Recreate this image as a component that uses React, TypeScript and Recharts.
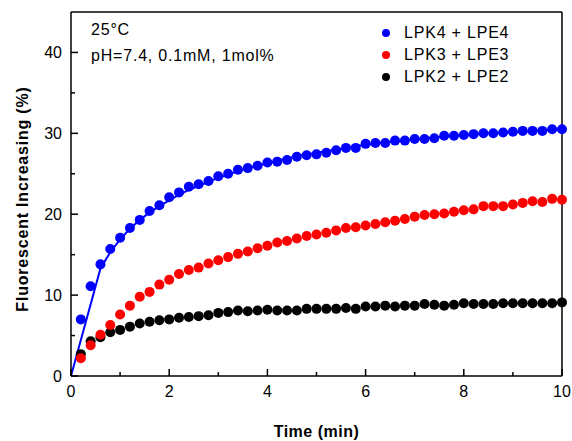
import {
  LineChart,
  Line,
  XAxis,
  YAxis,
  ReferenceLine,
  Legend,
} from "recharts";

const time = [
  0, 0.2, 0.4, 0.6, 0.8, 1.0, 1.2, 1.4, 1.6, 1.8, 2.0, 2.2, 2.4, 2.6, 2.8, 3.0, 3.2, 3.4,
  3.6, 3.8, 4.0, 4.2, 4.4, 4.6, 4.8, 5.0, 5.2, 5.4, 5.6, 5.8, 6.0, 6.2, 6.4, 6.6, 6.8,
  7.0, 7.2, 7.4, 7.6, 7.8, 8.0, 8.2, 8.4, 8.6, 8.8, 9.0, 9.2, 9.4, 9.6, 9.8, 10.0,
];

const lpk4 = [
  null, 7.0, 11.1, 13.8, 15.7, 17.1, 18.3, 19.3, 20.4, 21.1, 22.1, 22.7, 23.4, 23.7, 24.1,
  24.7, 25.0, 25.5, 25.7, 26.0, 26.4, 26.5, 26.7, 27.1, 27.3, 27.4, 27.6, 27.9, 28.2, 28.2,
  28.7, 28.8, 28.8, 29.1, 29.1, 29.3, 29.3, 29.4, 29.7, 29.7, 29.8, 29.9, 30.0, 30.0, 30.1,
  30.2, 30.3, 30.3, 30.3, 30.5, 30.5,
];

const lpk3 = [
  null, 2.2, 3.8, 5.1, 6.3, 7.6, 8.7, 9.8, 10.4, 11.3, 11.9, 12.6, 13.1, 13.4, 13.9, 14.3,
  14.7, 15.1, 15.4, 15.8, 16.1, 16.5, 16.7, 17.0, 17.3, 17.5, 17.7, 18.0, 18.3, 18.4, 18.6,
  18.8, 19.0, 19.2, 19.4, 19.7, 19.9, 20.0, 20.1, 20.3, 20.5, 20.6, 21.0, 21.0, 21.0, 21.2,
  21.4, 21.6, 21.5, 21.9, 21.8,
];

const lpk2 = [
  null, 2.7, 4.3, 4.8, 5.4, 5.7, 6.1, 6.5, 6.7, 6.9, 7.0, 7.2, 7.3, 7.4, 7.5, 7.8, 7.9, 8.1,
  8.0, 8.1, 8.2, 8.1, 8.1, 8.1, 8.3, 8.3, 8.3, 8.3, 8.4, 8.3, 8.6, 8.6, 8.7, 8.6, 8.7, 8.7,
  8.9, 8.8, 8.7, 8.8, 9.0, 8.9, 8.9, 8.9, 9.0, 9.0, 9.0, 9.0, 9.0, 9.0, 9.1,
];

// fitted curve for LPK4 + LPE4
const lpk4Fit = [
  0, null, null, 13.3, 15.3, 16.9, 18.2, 19.3, 20.2, 21.0, 21.7, 22.4, 23.0, 23.5, 24.0,
  24.5, 24.9, 25.3, 25.7, 26.0, 26.3, 26.6, 26.9, 27.2, 27.4, 27.6, 27.8, 28.0, 28.2, 28.4,
  28.6, 28.7, 28.9, 29.0, 29.1, 29.3, 29.4, 29.5, 29.6, 29.7, 29.8, 29.9, 30.0, 30.0, 30.1,
  30.2, 30.2, 30.3, 30.4, 30.4, 30.5,
];

const xTicks = [0, 1, 2, 3, 4, 5, 6, 7, 8, 9, 10];
const yTicks = [0, 5, 10, 15, 20, 25, 30, 35, 40];

const series = [
  { key: "lpk4", name: "LPK4 + LPE4", color: "#0000ff" },
  { key: "lpk3", name: "LPK3 + LPE3", color: "#ff0000" },
  { key: "lpk2", name: "LPK2 + LPE2", color: "#000000" },
];

const FONT = '"Liberation Sans", Arial, sans-serif';

const data = time.map((t, i) => ({
  t,
  lpk4: lpk4[i],
  lpk3: lpk3[i],
  lpk2: lpk2[i],
  fit: lpk4Fit[i],
}));

const XTick = ({ x, y, payload }: any) => {
  const major = payload.value % 2 === 0;
  return (
    <g>
      <line x1={x} x2={x} y1={y} y2={y - (major ? 7 : 4)} stroke="#000" strokeWidth={1.5} />
      {major && (
        <text x={x} y={y + 21} textAnchor="middle" fontSize={16} fontFamily={FONT} fill="#000">
          {payload.value}
        </text>
      )}
    </g>
  );
};

const YTick = ({ x, y, payload }: any) => {
  const major = payload.value % 10 === 0;
  return (
    <g>
      <line x1={x} x2={x + (major ? 7 : 4)} y1={y} y2={y} stroke="#000" strokeWidth={1.5} />
      {major && (
        <text x={x - 9} y={y} dy="0.36em" textAnchor="end" fontSize={16} fontFamily={FONT} fill="#000">
          {payload.value}
        </text>
      )}
    </g>
  );
};

const renderLegend = () => (
  <div style={{ fontFamily: FONT, fontSize: 16, letterSpacing: 0.8, color: "#000" }}>
    {series.map((s) => (
      <div key={s.key} style={{ display: "flex", alignItems: "center", height: 22 }}>
        <span
          style={{
            display: "inline-block",
            width: 8,
            height: 8,
            borderRadius: "50%",
            background: s.color,
            marginRight: 14,
          }}
        />
        <span>{s.name}</span>
      </div>
    ))}
  </div>
);

export default function App() {
  return (
    <div style={{ position: "absolute", left: 0, top: 0, width: 572, height: 441, background: "#fff" }}>
      <LineChart width={572} height={441} data={data} margin={{ top: 12, right: 10, left: 0, bottom: 0 }}>
        <XAxis
          dataKey="t"
          type="number"
          domain={[0, 10]}
          ticks={xTicks}
          height={65}
          tickSize={0}
          tickMargin={0}
          tickLine={false}
          tick={<XTick />}
          axisLine={{ stroke: "#000", strokeWidth: 1.5 }}
          label={{
            value: "Time (min)",
            position: "insideBottom",
            offset: 4,
            style: { fontFamily: FONT, fontSize: 16, fontWeight: "bold", fill: "#000", letterSpacing: 0.5 },
          }}
        />
        <YAxis
          type="number"
          domain={[0, 45]}
          ticks={yTicks}
          width={71}
          tickSize={0}
          tickMargin={0}
          tickLine={false}
          tick={<YTick />}
          axisLine={{ stroke: "#000", strokeWidth: 1.5 }}
          label={{
            content: () => (
              <text
                x={28}
                y={199}
                transform="rotate(-90 28 199)"
                textAnchor="middle"
                fontFamily={FONT}
                fontSize={16}
                fontWeight="bold"
                letterSpacing={0.8}
                fill="#000"
              >
                Fluorescent Increasing (%)
              </text>
            ),
          }}
        />
        <ReferenceLine y={45} stroke="#000" strokeWidth={1.5} />
        <ReferenceLine x={10} stroke="#000" strokeWidth={1.5} />
        <ReferenceLine
          y={42.8}
          stroke="none"
          label={{
            value: "25°C",
            position: "insideLeft",
            offset: 20,
            style: { fontFamily: FONT, fontSize: 16, fill: "#000", letterSpacing: 0.8 },
          }}
        />
        <ReferenceLine
          y={39.7}
          stroke="none"
          label={{
            value: "pH=7.4, 0.1mM, 1mol%",
            position: "insideLeft",
            offset: 20,
            style: { fontFamily: FONT, fontSize: 16, fill: "#000", letterSpacing: 0.8 },
          }}
        />
        <Legend
          content={renderLegend}
          layout="vertical"
          align="center"
          verticalAlign="middle"
          wrapperStyle={{ top: 22, left: 382, width: 180 }}
        />
        <Line
          dataKey="fit"
          stroke="#0000ff"
          strokeWidth={2}
          dot={false}
          connectNulls
          legendType="none"
          isAnimationActive={false}
        />
        {[...series].reverse().map((s) => (
          <Line
            key={s.key}
            dataKey={s.key}
            name={s.name}
            stroke="none"
            dot={{ r: 5, fill: s.color, stroke: "none" }}
            activeDot={false}
            isAnimationActive={false}
          />
        ))}
      </LineChart>
    </div>
  );
}
